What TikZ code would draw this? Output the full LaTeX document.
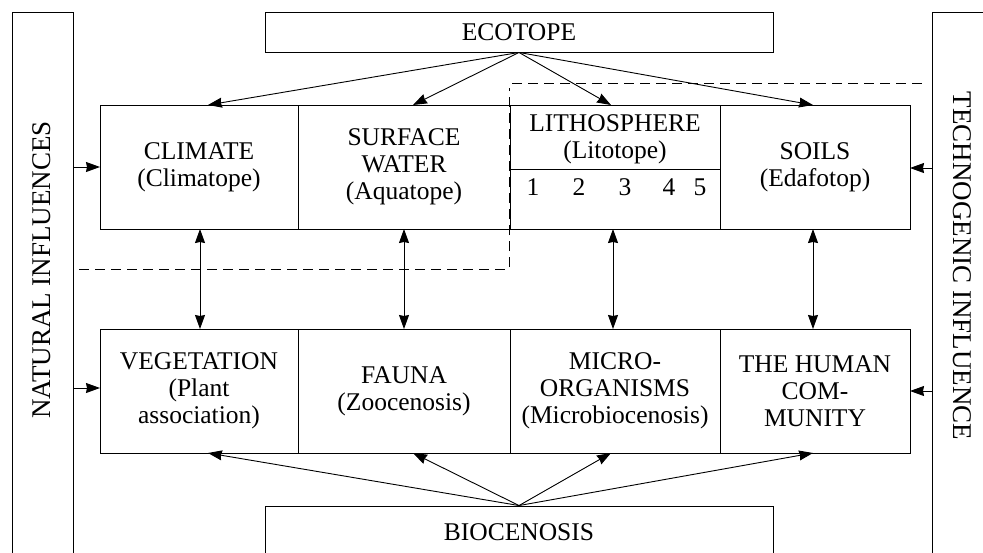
\documentclass[tikz,border=0pt]{standalone}
\usepackage{fontspec}
\setmainfont{Liberation Serif}
\usetikzlibrary{arrows.meta}
\begin{document}
\begin{tikzpicture}[x=1pt,y=-1pt,
  every node/.style={font=\fontsize{25.5}{27}\selectfont, inner sep=0pt},
  sidetext/.style={font=\fontsize{27}{28}\selectfont},
  cell/.style={draw, line width=0.9pt, minimum height=124pt, align=center},
  wide/.style={draw, line width=0.9pt, minimum width=508pt},
  side/.style={draw, line width=0.9pt, minimum height=560pt},
  link/.style={line width=0.9pt, -{Stealth[length=14pt,width=10pt,inset=1pt]}},
  both/.style={line width=0.9pt, {Stealth[length=14pt,width=10pt,inset=1pt]}-{Stealth[length=14pt,width=10pt,inset=1pt]}},
  dashline/.style={line width=0.9pt, dash pattern=on 10pt off 6pt}]
\useasboundingbox (0,0) rectangle (983,552);
\clip (0,0) rectangle (983,552);
% side boxes
\node[side, minimum width=61pt] (lbox) at (42.5,292) {};
\node[sidetext, rotate=90] (ltext) at (42,270) {NATURAL INFLUENCES};
\node[side, minimum width=70pt] (rbox) at (967,292) {};
\node[sidetext, rotate=-90] (rtext) at (962,266) {TECHNOGENIC INFLUENCE};
% ecotope and biocenosis
\node[wide, minimum height=40pt] (eco) at (519,32) {ECOTOPE};
\node[wide, minimum height=52pt] (bio) at (519,532) {BIOCENOSIS};
% top row
\node[cell, minimum width=198pt] (clim) at (199,167) {CLIMATE\\(Climatope)};
\node[cell, minimum width=212pt] (surf) at (404,167) {SURFACE\\WATER\\(Aquatope)};
\node[cell, minimum width=210pt] (lith) at (615,167) {};
\node[cell, minimum width=190pt] (soil) at (815,167) {SOILS\\(Edafotop)};
% lithosphere interior
\node[align=center] (lithtext) at (615,139) {LITHOSPHERE\\(Litotope)};
\coordinate (ldl) at (510,169);
\coordinate (ldr) at (720,169);
\draw[line width=0.9pt] (ldl) -- (ldr);
\node (n1) at (533,187) {1};
\node (n2) at (579,187) {2};
\node (n3) at (625,187) {3};
\node (n4) at (669,187) {4};
\node (n5) at (700,187) {5};
% bottom row
\node[cell, minimum width=198pt] (veg) at (199,391) {VEGETATION\\(Plant\\association)};
\node[cell, minimum width=212pt] (fauna) at (404,391) {FAUNA\\(Zoocenosis)};
\node[cell, minimum width=210pt] (micro) at (615,391) {MICRO-\\ORGANISMS\\(Microbiocenosis)};
\node[cell, minimum width=190pt] (human) at (815,391) {THE HUMAN\\COM-\\MUNITY};
% dashed boundary
\coordinate (d1) at (79,269);
\coordinate (d2) at (509,269);
\coordinate (d3) at (509,88);
\coordinate (d4) at (512,83);
\coordinate (d5) at (928,83);
\draw[dashline] (d1) -- (d2) -- (d3);
\draw[dashline] (d4) -- (d5);
% ecotope arrows (targets on top edge of top row)
\coordinate (t1) at (208,105);
\coordinate (t2) at (413,105);
\coordinate (t3) at (611,105);
\coordinate (t4) at (813,105);
\draw[link] (eco.south) -- (t1);
\draw[link] (eco.south) -- (t2);
\draw[link] (eco.south) -- (t3);
\draw[link] (eco.south) -- (t4);
% biocenosis arrows
\coordinate (b1) at (208,453);
\coordinate (b2) at (413,453);
\coordinate (b3) at (611,453);
\coordinate (b4) at (813,453);
\draw[link] (bio.north) -- (b1);
\draw[link] (bio.north) -- (b2);
\draw[link] (bio.north) -- (b3);
\draw[link] (bio.north) -- (b4);
% vertical double arrows
\coordinate (u1) at (200,229); \coordinate (v1) at (200,329);
\coordinate (u2) at (404,229); \coordinate (v2) at (404,329);
\coordinate (u3) at (613,229); \coordinate (v3) at (613,329);
\coordinate (u4) at (813,229); \coordinate (v4) at (813,329);
\draw[both] (u1) -- (v1);
\draw[both] (u2) -- (v2);
\draw[both] (u3) -- (v3);
\draw[both] (u4) -- (v4);
% side arrows
\coordinate (s1) at (100,167); \coordinate (s2) at (100,388);
\coordinate (s3) at (910,168); \coordinate (s4) at (910,391);
\draw[link] (lbox.east |- s1) -- (s1);
\draw[link] (lbox.east |- s2) -- (s2);
\draw[link] (rbox.west |- s3) -- (s3);
\draw[link] (rbox.west |- s4) -- (s4);
\end{tikzpicture}
\end{document}
